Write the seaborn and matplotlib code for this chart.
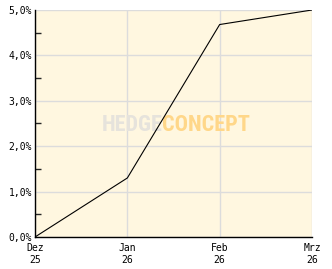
import matplotlib
matplotlib.use("Agg")
import matplotlib.pyplot as plt
import seaborn as sns
import pandas as pd
from matplotlib import font_manager
from matplotlib.ticker import MultipleLocator, FuncFormatter

months = ["Dez\n25", "Jan\n26", "Feb\n26", "Mrz\n26"]
values = [0.0, 1.3, 4.68, 5.0]

sns.set_style("white")
plt.rcParams['font.family'] = ['DejaVu Sans Mono', 'DejaVu Sans']

names = {f.name for f in font_manager.fontManager.ttflist}
narrow = None
for cand in ["Liberation Sans Narrow", "DejaVu Sans Condensed", "Roboto Condensed", "Open Sans Condensed"]:
    if cand in names:
        narrow = cand
        break

df = pd.DataFrame({"x": range(len(months)), "y": values})

fig = plt.figure(figsize=(3.32, 2.69), dpi=100)
fig.patch.set_facecolor("white")
ax = fig.add_axes([35/332, 1 - 237/269, 277/332, 227/269])
ax.set_facecolor("#fff7e0")

sns.lineplot(data=df, x="x", y="y", ax=ax, color="black", linewidth=0.8)

ax.set_xlim(0, len(months) - 1)
ax.set_ylim(0, 5)
ax.set_xticks(range(len(months)))
ax.set_xticklabels(months, fontsize=7, linespacing=1.35)
ax.yaxis.set_major_locator(MultipleLocator(1))
ax.yaxis.set_minor_locator(MultipleLocator(0.5))
ax.yaxis.set_major_formatter(FuncFormatter(lambda v, p: f"{v:.1f}%".replace(".", ",")))
ax.tick_params(axis="y", labelsize=7, direction="in", length=5, width=1, pad=2, colors="black")
ax.tick_params(axis="y", which="minor", direction="in", length=4, width=1, left=True)
ax.tick_params(axis="x", labelsize=7, direction="in", length=5, width=1, pad=4, colors="black")
ax.set_xlabel("")
ax.set_ylabel("")
ax.grid(True, color="#dcdcdc", linewidth=1)
ax.set_axisbelow(True)
for s in ["top", "right"]:
    ax.spines[s].set_visible(False)
for s in ["left", "bottom"]:
    ax.spines[s].set_color("black")
    ax.spines[s].set_linewidth(1)
    ax.spines[s].set_zorder(5)

if narrow:
    wm = dict(fontsize=16, family=narrow)
else:
    wm = dict(fontsize=13.5, family="DejaVu Sans")
wm.update(transform=ax.transAxes, va="center", fontweight="bold", zorder=1.5)
ax.text(0.46, 0.493, "HEDGE", ha="right", color="#e6e3dc", **wm)
ax.text(0.46, 0.493, "CONCEPT", ha="left", color="#ffd789", **wm)

fig.savefig("out.png", dpi=100)
